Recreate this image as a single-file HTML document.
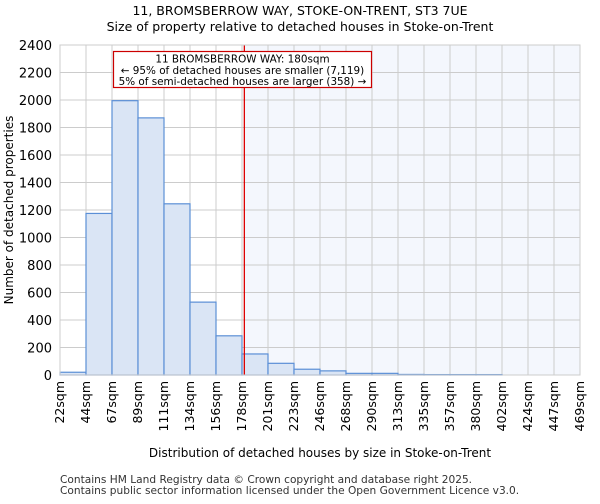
<!DOCTYPE html>
<html><head><meta charset="utf-8"><style>
body{margin:0;background:#fff;font-family:"DejaVu Sans","Liberation Sans",sans-serif;}
</style></head><body>
<svg id="chart" width="600" height="500" xmlns="http://www.w3.org/2000/svg" font-family="DejaVu Sans, Liberation Sans, sans-serif">
<text x="300" y="15" text-anchor="middle" font-size="12.5">11, BROMSBERROW WAY, STOKE-ON-TRENT, ST3 7UE</text>
<text x="300" y="31" text-anchor="middle" font-size="12.5">Size of property relative to detached houses in Stoke-on-Trent</text>
<g id="plot"></g>
<text x="320" y="457" text-anchor="middle" font-size="12">Distribution of detached houses by size in Stoke-on-Trent</text>
<text transform="translate(13,210) rotate(-90)" text-anchor="middle" font-size="12">Number of detached properties</text>
<text x="60" y="483" font-size="10.6" fill="#333">Contains HM Land Registry data © Crown copyright and database right 2025.</text>
<text x="60" y="494" font-size="10.6" fill="#333">Contains public sector information licensed under the Open Government Licence v3.0.</text>
</svg>
<script>
const categories=["22sqm","44sqm","67sqm","89sqm","111sqm","134sqm","156sqm","178sqm","201sqm","223sqm","246sqm","268sqm","290sqm","313sqm","335sqm","357sqm","380sqm","402sqm","424sqm","447sqm","469sqm"];
const counts=[20,1175,1995,1870,1245,530,285,153,85,42,30,12,12,4,3,3,3,0,0,0];
const yTicks=[0,200,400,600,800,1000,1200,1400,1600,1800,2000,2200,2400];
const markerIndex=7.09;
const NS="http://www.w3.org/2000/svg";
const L=60,R=580,T=45,B=375,yMax=2400;
const n=counts.length,bw=(R-L)/n;
const xs=i=>L+i*bw;
const ys=v=>B-v/yMax*(B-T);
const g=document.getElementById('plot');
function mk(t,a){const e=document.createElementNS(NS,t);for(const k in a)e.setAttribute(k,a[k]);g.appendChild(e);return e;}
const mx=xs(markerIndex);
let e=mk('rect',{x:mx,y:T,width:R-mx,height:B-T,fill:'#f4f7fd'});


yTicks.forEach(v=>{
 const l=mk('line',{x1:L,x2:R,y1:ys(v),y2:ys(v),stroke:'#ccc','stroke-width':1});
 
 
 const t=mk('text',{x:L-8,y:ys(v)+5,'text-anchor':'end','font-size':13});
 t.textContent=v;
 
 
});
categories.forEach((c,i)=>{
 const l=mk('line',{x1:xs(i),x2:xs(i),y1:T,y2:B,stroke:'#ccc','stroke-width':1});
 
 
 const t=mk('text',{transform:`translate(${xs(i)+4},${B+6}) rotate(-90)`,'text-anchor':'end','font-size':12.5});
 t.textContent=c;
 
 
});
counts.forEach((v,i)=>{
 if(v<=0)return;
 const r=mk('rect',{x:xs(i),y:ys(v),width:bw,height:B-ys(v),fill:'#dae5f5',stroke:'#5b8fd6','stroke-width':1.2});
 
 
});
e=mk('line',{x1:mx,x2:mx,y1:T,y2:B,stroke:'#d00','stroke-width':1.3});


e=mk('rect',{x:L,y:T,width:R-L,height:B-T,fill:'none',stroke:'#ccc'});


e=mk('rect',{x:113.5,y:51.5,width:258,height:36,fill:'#fff',stroke:'#cc0000','stroke-width':1.2});


["11 BROMSBERROW WAY: 180sqm","← 95% of detached houses are smaller (7,119)","5% of semi-detached houses are larger (358) →"].forEach((s,k)=>{
 const t=mk('text',{x:242.5,y:62.5+k*11.3,'text-anchor':'middle','font-size':10.4});
 t.textContent=s;
 
 
});
</script>
</body></html>
